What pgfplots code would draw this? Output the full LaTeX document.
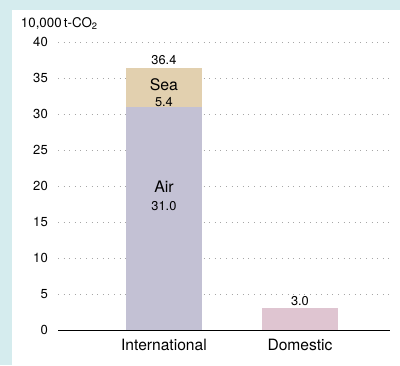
\documentclass[border=0pt]{standalone}
\usepackage{fontspec}
\setmainfont{TeX Gyre Heros}
\usepackage{pgfplots}
\pgfplotsset{compat=1.18}
\definecolor{bgcyan}{HTML}{D5ECEE}
\definecolor{airc}{HTML}{C3C1D4}
\definecolor{seac}{HTML}{E2D0AF}
\definecolor{domc}{HTML}{DFC5D1}
\begin{document}
\begin{tikzpicture}
\useasboundingbox (0,0) rectangle (300pt,273.75pt);
\fill[bgcyan] (0,0) rectangle (300pt,273.75pt);
\fill[white] (9pt,0) rectangle (300pt,266.25pt);
\begin{axis}[
  at={(43.5pt,26.25pt)}, anchor=south west,
  scale only axis, width=249pt, height=216pt,
  xmin=-0.779, xmax=1.662, ymin=0, ymax=40,
  enlargelimits=false,
  ybar stacked, bar width=57pt,
  axis x line=bottom, axis y line=left,
  x axis line style={-, black, line width=0.75pt},
  y axis line style={draw=none},
  xtick style={draw=none}, ytick style={draw=none},
  xtick={0,1}, xticklabels={International,Domestic},
  ytick={0,5,...,40},
  ymajorgrids,
  grid style={gray!70, line width=0.75pt, dash pattern=on 0.75pt off 3.45pt},
  /pgf/number format/assume math mode=true,
  yticklabel style={font=\fontsize{9.8}{11}\selectfont, xshift=-2pt},
  xticklabel style={font=\fontsize{11.7}{13}\selectfont, yshift=-1pt},
  clip=false,
]
\addplot[fill=airc, draw=none] coordinates {(0,31.0) (1,0)};
\addplot[fill=seac, draw=none] coordinates {(0,5.4) (1,0)};
\addplot[fill=domc, draw=none] coordinates {(0,0) (1,3.0)};
\coordinate (tot) at (axis cs:0,37.5);
\coordinate (sea) at (axis cs:0,34.1);
\coordinate (seav) at (axis cs:0,31.7);
\coordinate (air) at (axis cs:0,19.9);
\coordinate (airv) at (axis cs:0,17.2);
\coordinate (dom) at (axis cs:1,4.07);
\end{axis}
\node[font=\fontsize{9.6}{11}\selectfont] at (tot) {36.4};
\node[font=\fontsize{11.9}{13}\selectfont] at (sea) {Sea};
\node[font=\fontsize{9.6}{11}\selectfont] at (seav) {5.4};
\node[font=\fontsize{11.9}{13}\selectfont] at (air) {Air};
\node[font=\fontsize{9.6}{11}\selectfont] at (airv) {31.0};
\node[font=\fontsize{9.6}{11}\selectfont] at (dom) {3.0};
\node[anchor=west, inner sep=0pt, font=\fontsize{10}{12}\selectfont] at (15.5pt,255.75pt) {10,000\,t-CO\textsubscript{2}};
\end{tikzpicture}
\end{document}
